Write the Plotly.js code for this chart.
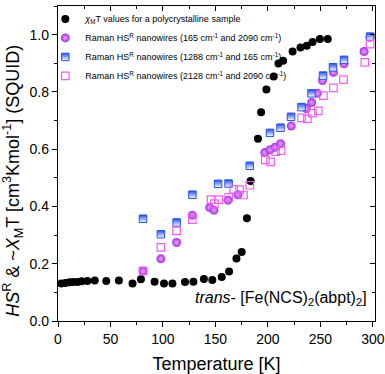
<!DOCTYPE html>
<html>
<head>
<meta charset="utf-8">
<script src="https://cdn.plot.ly/plotly-3.0.1.min.js"></script>
<style>
  html, body { margin: 0; padding: 0; background: white; }
  #chart { width: 385px; height: 374px; }
</style>
</head>
<body>
<div id="chart"></div>
<script>
// SQUID chi_M T (polycrystalline sample)
const squidT = [3, 7, 11, 14.5, 18.5, 22.5, 28, 35, 46, 58, 71, 79, 92, 101, 109, 121, 129,
  139, 147, 156, 163, 170, 175, 180, 183.5, 190.5, 193.5, 198.5, 205.5, 210, 214.5,
  223.5, 231, 237, 242.5, 249.5, 257];
const squidV = [0.131, 0.133, 0.135, 0.136, 0.136, 0.139, 0.140, 0.141, 0.140, 0.141, 0.131,
  0.146, 0.137, 0.131, 0.131, 0.136, 0.137, 0.147, 0.143, 0.154, 0.173, 0.218, 0.241,
  0.359, 0.489, 0.636, 0.729, 0.808, 0.854, 0.899, 0.909, 0.941, 0.955, 0.961, 0.974,
  0.985, 0.985];

// Raman HS^R (165 cm-1 and 2090 cm-1)
const r1T = [81, 98, 113, 128, 144.5, 148.5, 162, 171.5, 197, 202, 206.8, 212, 222.2,
  236.5, 241.6, 247, 252, 262.4, 272.5, 291.6, 297.3];
const r1V = [0.174, 0.217, 0.274, 0.369, 0.396, 0.387, 0.422, 0.441, 0.588, 0.598, 0.607,
  0.619, 0.681, 0.742, 0.763, 0.795, 0.840, 0.868, 0.898, 0.941, 0.991];

// Raman HS^R (1288 cm-1 and 165 cm-1)
const r2T = [81, 98, 113, 128, 152.5, 162.5, 182.7, 202, 212, 222, 232, 241.5, 252.5,
  262, 272.5, 297.3];
const r2V = [0.357, 0.303, 0.344, 0.441, 0.479, 0.480, 0.542, 0.657, 0.675, 0.713, 0.747,
  0.795, 0.857, 0.886, 0.912, 0.993];

// Raman HS^R (2128 cm-1 and 2090 cm-1)
const r3T = [81, 98, 113, 128, 145.8, 149, 153, 162.7, 167.4, 173, 176.7, 182.7, 197.5,
  202.5, 207.3, 212.5, 232, 237.5, 242.3, 248, 252.8, 262.4, 272, 292.3, 297.3];
const r3V = [0.175, 0.257, 0.315, 0.354, 0.424, 0.410, 0.424, 0.432, 0.460, 0.459, 0.440,
  0.474, 0.563, 0.556, 0.591, 0.595, 0.709, 0.706, 0.726, 0.734, 0.787, 0.814, 0.843,
  0.903, 0.967];

const legendNames = [
  "<i>χ</i><sub>M</sub>T values for a polycrystalline sample",
  "Raman HS<sup>R</sup> nanowires (165 cm<sup>-1</sup> and 2090 cm<sup>-1</sup>)",
  "Raman HS<sup>R</sup> nanowires (1288 cm<sup>-1</sup> and 165 cm<sup>-1</sup>)",
  "Raman HS<sup>R</sup> nanowires (2128 cm<sup>-1</sup> and 2090 cm<sup>-1</sup>)",
];

const xTicks = [0, 50, 100, 150, 200, 250, 300];
const yTicks = [0, 0.2, 0.4, 0.6, 0.8, 1.0];
const xRange = [0, 302];
const yRange = [0, 1.1];
const font = "Liberation Sans, Arial, sans-serif";

const traces = [
  {
    x: squidT, y: squidV, mode: "markers", name: legendNames[0],
    marker: { symbol: "circle", size: 8, color: "#000000" },
  },
  {
    x: r1T, y: r1V, mode: "markers", name: legendNames[1],
    marker: {
      symbol: "circle", size: 9, color: "#a92fe3",
      gradient: { type: "radial", color: "#e3a6ff" },
    },
  },
  {
    x: r2T, y: r2V, mode: "markers", name: legendNames[2],
    marker: {
      symbol: "square", size: 7.5, color: "#2450e8",
      gradient: { type: "vertical", color: "#ffffff" },
      line: { color: "#2450e8", width: 1 },
    },
  },
  {
    x: r3T, y: r3V, mode: "markers", name: legendNames[3],
    marker: {
      symbol: "square-open", size: 7.5, color: "#f25cf2",
      line: { color: "#f25cf2", width: 1.2 },
    },
  },
  // empty trace so the mirrored top/right axes get drawn
  { x: [], y: [], xaxis: "x2", yaxis: "y2", showlegend: false, hoverinfo: "skip" },
];

const layout = {
  width: 385,
  height: 374,
  margin: { l: 58, r: 10, t: 4, b: 53 },
  paper_bgcolor: "white",
  plot_bgcolor: "white",
  font: { family: font, color: "#000" },
  showlegend: true,
  legend: {
    x: -0.04, y: 1.005, xanchor: "left", yanchor: "top",
    bgcolor: "rgba(0,0,0,0)",
    font: { size: 9, family: font },
  },
  xaxis: {
    range: xRange,
    title: { text: "Temperature [K]", font: { size: 18 }, standoff: 12 },
    tickvals: xTicks,
    ticks: "outside", ticklen: 5, tickwidth: 1, tickcolor: "#000",
    minor: { dtick: 25, ticks: "outside", ticklen: 3, tickcolor: "#000" },
    tickfont: { size: 14 },
    showline: true, linecolor: "#000", linewidth: 1.2,
    showgrid: false, zeroline: false,
  },
  yaxis: {
    range: yRange,
    tickvals: yTicks,
    tickformat: ".1f",
    ticks: "outside", ticklen: 5, tickwidth: 1, tickcolor: "#000",
    minor: { dtick: 0.1, ticks: "outside", ticklen: 3, tickcolor: "#000" },
    tickfont: { size: 14 },
    showline: true, linecolor: "#000", linewidth: 1.2,
    showgrid: false, zeroline: false,
  },
  xaxis2: {
    overlaying: "x", side: "top", anchor: "y2", range: xRange,
    tickvals: xTicks, showticklabels: false,
    ticks: "inside", ticklen: 5, tickcolor: "#000",
    minor: { dtick: 25, ticks: "inside", ticklen: 3, tickcolor: "#000" },
    showline: true, linecolor: "#000", linewidth: 1.2,
    showgrid: false, zeroline: false,
  },
  yaxis2: {
    overlaying: "y", side: "right", anchor: "x2", range: yRange,
    tickvals: yTicks, showticklabels: false,
    ticks: "inside", ticklen: 5, tickcolor: "#000",
    minor: { dtick: 0.1, ticks: "inside", ticklen: 3, tickcolor: "#000" },
    showline: true, linecolor: "#000", linewidth: 1.2,
    showgrid: false, zeroline: false,
  },
  annotations: [
    {
      // y axis title, placed a bit below the plot centre as in the original
      text: "<i>HS</i><sup>R</sup> & ~<i>X</i><sub>M</sub>T [cm<sup>3</sup>Kmol<sup>-1</sup>] (SQUID)",
      xref: "paper", yref: "paper", x: 0, y: 0.445, xshift: -45,
      xanchor: "center", yanchor: "middle", textangle: -90, showarrow: false,
      font: { size: 18, family: font, color: "#000" },
    },
    {
      text: "<i>trans</i>- [Fe(NCS)<sub>2</sub>(abpt)<sub>2</sub>]",
      xref: "paper", yref: "paper", x: 0.98, y: 0.07,
      xanchor: "right", yanchor: "middle", showarrow: false,
      font: { size: 16, family: font, color: "#000" },
    },
  ],
};

Plotly.newPlot("chart", traces, layout, { displayModeBar: false, staticPlot: true });
</script>
</body>
</html>
